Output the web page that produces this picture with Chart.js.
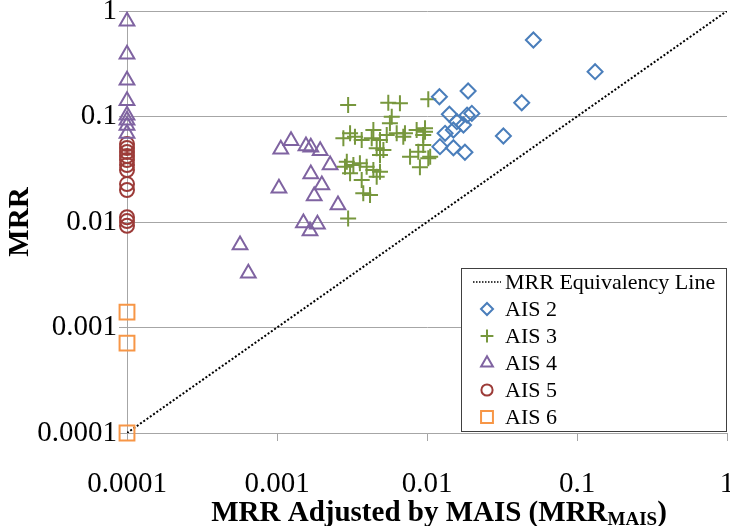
<!DOCTYPE html>
<html>
<head>
<meta charset="utf-8">
<script src="https://cdn.jsdelivr.net/npm/chart.js@4"></script>
<style>
  html, body { margin: 0; padding: 0; background: #fff; }
</style>
</head>
<body>
<canvas id="chart" width="730" height="526"></canvas>
<script>
const tickValues = [0.0001, 0.001, 0.01, 0.1, 1];
const tickLabels = ["0.0001", "0.001", "0.01", "0.1", "1"];
const seriesNames = ["MRR Equivalency Line", "AIS 2", "AIS 3", "AIS 4", "AIS 5", "AIS 6"];
const yTitle = "MRR";
const xTitle = "MRR Adjusted by MAIS (MRR";
const xTitleSub = "MAIS";
const xTitleEnd = ")";

const lineX = [0.0001, 1];
const lineY = [0.0001, 1];

const ais2X = [0.0512, 0.0188, 0.0121, 0.0428, 0.0141, 0.0199, 0.0185, 0.0158, 0.0175, 0.015, 0.0132, 0.0323, 0.0122, 0.015, 0.0179, 0.132];
const ais2Y = [0.531, 0.1745, 0.154, 0.135, 0.105, 0.107, 0.103, 0.0893, 0.083, 0.0745, 0.0693, 0.0653, 0.0518, 0.0506, 0.0458, 0.266];

const ais3X = [0.00298, 0.00552, 0.0066, 0.0102, 0.00582, 0.00566, 0.00307, 0.00277, 0.00331, 0.00367, 0.00439, 0.00428, 0.00486, 0.00539, 0.00628, 0.00713, 0.00695, 0.00853, 0.0097, 0.00944, 0.00462, 0.00512, 0.00486, 0.00771, 0.00875, 0.0102, 0.00897, 0.00292, 0.00284, 0.00323, 0.00357, 0.00396, 0.00307, 0.00439, 0.00486, 0.00462, 0.00367, 0.00376, 0.00417, 0.00298, 0.0097, 0.00944, 0.0105];
const ais3Y = [0.1285, 0.135, 0.1334, 0.1456, 0.0996, 0.0862, 0.0693, 0.0621, 0.0644, 0.0599, 0.0745, 0.0621, 0.0599, 0.0668, 0.0693, 0.0693, 0.0644, 0.0745, 0.0773, 0.0668, 0.05, 0.0481, 0.0432, 0.0416, 0.0464, 0.0402, 0.033, 0.0373, 0.0334, 0.0347, 0.036, 0.0334, 0.029, 0.0311, 0.03, 0.0269, 0.025, 0.0187, 0.018, 0.0108, 0.0718, 0.0537, 0.0416];

const ais4X = [0.0001, 0.0001, 0.0001, 0.0001, 0.0001, 0.0001, 0.0001, 0.0001, 0.00124, 0.00106, 0.00156, 0.00168, 0.00194, 0.00226, 0.00168, 0.00199, 0.00177, 0.00103, 0.0015, 0.00186, 0.00166, 0.000567, 0.000644, 0.00255];
const ais4Y = [0.80, 0.39, 0.22, 0.141, 0.103, 0.092, 0.082, 0.069, 0.059, 0.049, 0.0525, 0.051, 0.0474, 0.0347, 0.0285, 0.0224, 0.0176, 0.0209, 0.0098, 0.0095, 0.0082, 0.00605, 0.00326, 0.0145];

const ais5X = [0.0001, 0.0001, 0.0001, 0.0001, 0.0001, 0.0001, 0.0001, 0.0001, 0.0001, 0.0001, 0.0001, 0.0001];
const ais5Y = [0.0548, 0.0503, 0.0461, 0.0422, 0.0387, 0.0347, 0.0311, 0.0229, 0.0201, 0.0111, 0.0102, 0.0092];

const ais6X = [0.0001, 0.0001, 0.0001];
const ais6Y = [0.0014, 0.00071, 0.0001];

function pts(xs, ys) {
  return xs.map((x, i) => ({ x: x, y: ys[i] }));
}

const markerStyles = [
  null,
  { pointStyle: "rectRot", color: "#4a7ebb", radius: 7.5 },
  { pointStyle: "cross", color: "#77973d", radius: 8 },
  { pointStyle: "triangle", color: "#7f63a1", radius: 8.5 },
  { pointStyle: "circle", color: "#9c3b38", radius: 7 },
  { pointStyle: "rect", color: "#f79646", radius: 10.5 },
];

function markerSet(i, data) {
  const m = markerStyles[i];
  return {
    label: seriesNames[i],
    data: data,
    pointStyle: m.pointStyle,
    pointRadius: m.radius,
    pointHoverRadius: m.radius,
    pointBorderColor: m.color,
    pointBackgroundColor: "rgba(0,0,0,0)",
    pointBorderWidth: 2,
    showLine: false,
    clip: false,
  };
}

const gridGray = "#a6a6a6";
const serif = "'Liberation Serif', 'Times New Roman', serif";

const legendBox = {
  id: "legendBox",
  afterDraw(chart) {
    const ctx = chart.ctx;
    const a = chart.chartArea;
    const w = 265, h = 163;
    const x0 = a.right - w - 1, y0 = a.bottom - h - 2;
    ctx.save();
    ctx.fillStyle = "#fff";
    ctx.fillRect(x0, y0, w, h);
    ctx.strokeStyle = "#404040";
    ctx.lineWidth = 1;
    ctx.strokeRect(x0 + 0.5, y0 + 0.5, w, h);
    ctx.font = "22px " + serif;
    ctx.textBaseline = "middle";
    ctx.textAlign = "left";
    for (let i = 0; i < seriesNames.length; i++) {
      const y = y0 + 14 + i * 27;
      const mx = x0 + 26;
      if (i === 0) {
        ctx.strokeStyle = "#000";
        ctx.lineWidth = 1.5;
        ctx.setLineDash([1.5, 1.5]);
        ctx.beginPath();
        ctx.moveTo(x0 + 12, y);
        ctx.lineTo(x0 + 40, y);
        ctx.stroke();
        ctx.setLineDash([]);
      } else {
        const m = markerStyles[i];
        ctx.strokeStyle = m.color;
        ctx.fillStyle = "rgba(0,0,0,0)";
        ctx.lineWidth = 2;
        Chart.helpers.drawPoint(ctx, { pointStyle: m.pointStyle, radius: m.radius * 0.8, rotation: 0, borderWidth: 2 }, mx, y);
      }
      ctx.fillStyle = "#000";
      ctx.fillText(seriesNames[i], x0 + 44, y + 1);
    }
    ctx.restore();
  },
};

const xTitlePlugin = {
  id: "xTitlePlugin",
  afterDraw(chart) {
    const ctx = chart.ctx;
    const a = chart.chartArea;
    const big = "bold 29px " + serif;
    const small = "bold 19px " + serif;
    ctx.save();
    ctx.fillStyle = "#000";
    ctx.textBaseline = "alphabetic";
    ctx.textAlign = "left";
    ctx.font = big;
    const w1 = ctx.measureText(xTitle).width;
    const w3 = ctx.measureText(xTitleEnd).width;
    ctx.font = small;
    const w2 = ctx.measureText(xTitleSub).width;
    let x = (a.left + a.right) / 2 + 12 - (w1 + w2 + w3) / 2;
    const base = 521;
    ctx.font = big;
    ctx.fillText(xTitle, x, base);
    x += w1;
    ctx.font = small;
    ctx.fillText(xTitleSub, x, base + 4);
    x += w2;
    ctx.font = big;
    ctx.fillText(xTitleEnd, x, base);
    ctx.restore();
  },
};

function logAxis(extra, tickPad) {
  return Object.assign({
    type: "logarithmic",
    min: 0.0001,
    max: 1,
    afterBuildTicks: (s) => {
      s.ticks = tickValues.map((v) => ({ value: v }));
    },
    ticks: {
      callback: (v) => tickLabels[tickValues.indexOf(v)],
      font: { family: serif, size: 29 },
      color: "#000",
      autoSkip: false,
      maxRotation: 0,
      padding: tickPad,
    },
  }, extra);
}

const ctx = document.getElementById("chart");

new Chart(ctx, {
  type: "scatter",
  data: {
    datasets: [
      markerSet(1, pts(ais2X, ais2Y)),
      markerSet(2, pts(ais3X, ais3Y)),
      markerSet(3, pts(ais4X, ais4Y)),
      markerSet(4, pts(ais5X, ais5Y)),
      markerSet(5, pts(ais6X, ais6Y)),
      {
        label: seriesNames[0],
        data: pts(lineX, lineY),
        showLine: true,
        borderColor: "#000",
        borderWidth: 2,
        borderDash: [2, 2],
        pointRadius: 0,
        pointHoverRadius: 0,
      },
    ],
  },
  options: {
    responsive: false,
    animation: false,
    layout: { padding: 0, autoPadding: false },
    plugins: {
      legend: { display: false },
      tooltip: { enabled: false },
    },
    scales: {
      x: logAxis({
        position: "bottom",
        grid: { drawOnChartArea: false, drawTicks: true, tickLength: 8, color: gridGray },
        border: { display: true, color: gridGray },
        afterFit: (s) => {
          s.height = 93;
          s.paddingRight = 3;
        },
      }, 26),
      y: logAxis({
        position: "left",
        grid: { drawOnChartArea: true, drawTicks: true, tickLength: 8, color: gridGray },
        border: { display: true, color: gridGray },
        title: {
          display: true,
          text: yTitle,
          font: { family: serif, size: 29, weight: "bold" },
          color: "#000",
          padding: { top: 3, bottom: 0 },
        },
        afterFit: (s) => {
          s.width = 127;
          s.paddingTop = 11;
        },
      }, 2),
    },
  },
  plugins: [legendBox, xTitlePlugin],
});
</script>
</body>
</html>
